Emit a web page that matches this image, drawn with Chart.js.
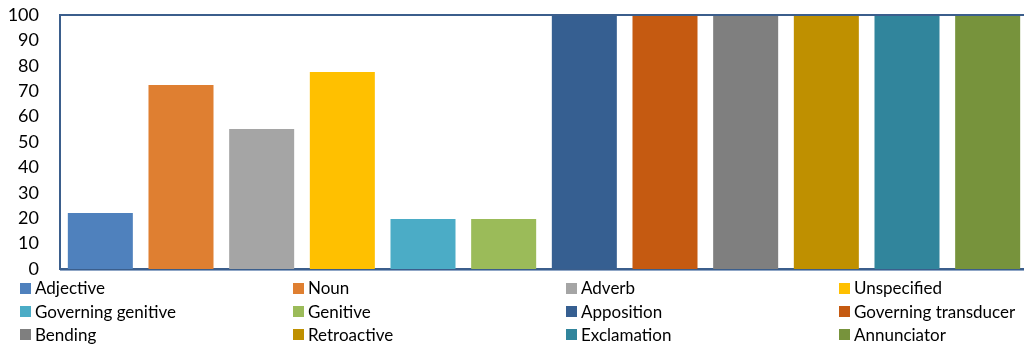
<!DOCTYPE html>
<html>
<head>
<meta charset="utf-8">
<script src="https://cdn.jsdelivr.net/npm/chart.js@4/dist/chart.umd.min.js"></script>
<style>
  html, body { margin: 0; padding: 0; background: #fff; overflow: hidden; }
  #wrap { position: relative; width: 1032px; height: 347px; }
</style>
</head>
<body>
<div id="wrap"><canvas id="chart"></canvas></div>
<script>
// Word classes and their share (percent)
const categories = [
  'Adjective', 'Noun', 'Adverb', 'Unspecified',
  'Governing genitive', 'Genitive', 'Apposition', 'Governing transducer',
  'Bending', 'Retroactive', 'Exclamation', 'Annunciator'
];
const values = [22, 72.4, 55.1, 77.6, 19.7, 19.7, 100, 100, 100, 100, 100, 100];
const colors = [
  '#4f81bd', '#df7f31', '#a5a5a5', '#ffc000',
  '#4bacc6', '#9bbb59', '#365f91', '#c55a11',
  '#7f7f7f', '#bf9000', '#31859c', '#77933c'
];
const yTicks = [0, 10, 20, 30, 40, 50, 60, 70, 80, 90, 100];

const FRAME = '#3b5e8c';
const FONT = 'Lato, "Open Sans", sans-serif';

// Frame around the plot area, drawn on top of the bars
const framePlugin = {
  id: 'frame',
  afterDatasetsDraw(chart) {
    const { ctx, chartArea: a } = chart;
    const y = chart.scales.y;
    const top = y.getPixelForValue(100), bottom = y.getPixelForValue(0);
    ctx.save();
    ctx.strokeStyle = FRAME;
    ctx.lineWidth = 2;
    ctx.beginPath();
    ctx.moveTo(a.left, bottom);
    ctx.lineTo(a.left, top);
    ctx.lineTo(a.right, top);
    ctx.lineTo(a.right, bottom);
    ctx.stroke();
    ctx.strokeStyle = '#8fa6c6';
    ctx.lineWidth = 1;
    ctx.beginPath();
    ctx.moveTo(a.left, bottom + 1.5);
    ctx.lineTo(a.right, bottom + 1.5);
    ctx.stroke();
    ctx.restore();
  }
};

// Four-column legend under the plot
const gridLegend = {
  id: 'gridLegend',
  afterDraw(chart) {
    const { ctx } = chart;
    const colX = [20, 293, 566, 839];
    const rowY = [288, 311.5, 334.5];
    ctx.save();
    ctx.font = '17px ' + FONT;
    ctx.textBaseline = 'middle';
    ctx.textAlign = 'left';
    categories.forEach((name, i) => {
      const x = colX[i % 4];
      const y = rowY[Math.floor(i / 4)];
      ctx.fillStyle = colors[i];
      ctx.fillRect(x, Math.round(y - 5.5), 11, 11);
      ctx.fillStyle = '#000';
      ctx.fillText(name, x + 15, y + 1);
    });
    ctx.restore();
  }
};

new Chart(document.getElementById('chart'), {
  type: 'bar',
  data: {
    labels: categories,
    datasets: [{
      label: 'Share',
      data: values,
      backgroundColor: colors,
      borderWidth: 0,
      barPercentage: 0.806,
      categoryPercentage: 1
    }]
  },
  options: {
    responsive: true,
    maintainAspectRatio: false,
    animation: false,
    layout: { padding: { left: 0, right: 4, top: 15, bottom: 78 } },
    plugins: {
      legend: { display: false },
      tooltip: { enabled: false }
    },
    scales: {
      x: {
        ticks: { display: false },
        grid: { display: false, drawTicks: false },
        border: { display: true, color: FRAME, width: 2 },
        afterFit(scale) { scale.height = 0; scale.paddingLeft = 0; scale.paddingRight = 0; }
      },
      y: {
        min: 0,
        max: 100,
        afterBuildTicks(scale) { scale.ticks = yTicks.map(v => ({ value: v })); },
        ticks: {
          color: '#000',
          font: { family: FONT, size: 18 },
          padding: 21
        },
        grid: { display: false, drawTicks: false },
        border: { display: true, color: FRAME, width: 2 },
        afterFit(scale) { scale.width = 60; scale.paddingTop = 0; scale.paddingBottom = 0; }
      }
    }
  },
  plugins: [framePlugin, gridLegend]
});
</script>
</body>
</html>
